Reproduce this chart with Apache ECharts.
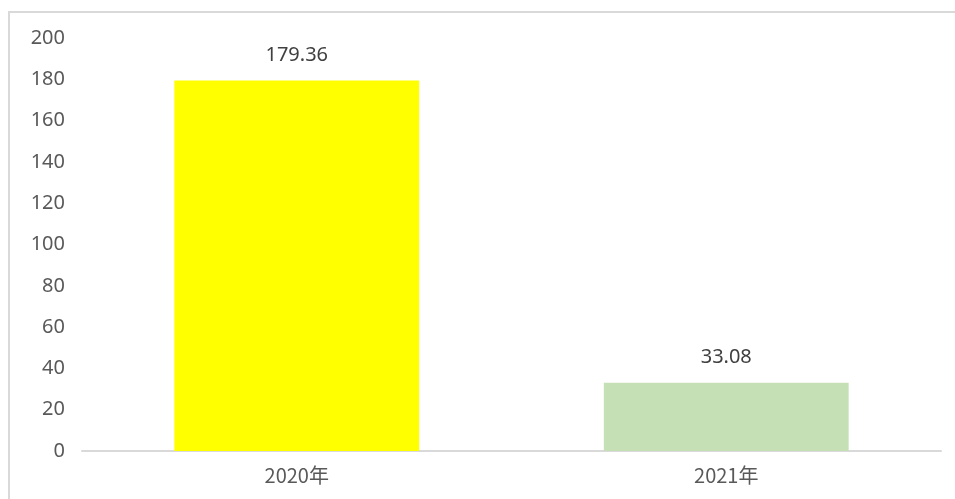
<!DOCTYPE html>
<html><head><meta charset="utf-8">
<script src="https://cdn.jsdelivr.net/npm/echarts@6/dist/echarts.min.js"></script>
<style>html,body{margin:0;padding:0;background:#fff}#c{width:955px;height:499px}</style>
</head><body><div id="c"></div>
<script>
var categories = ['2020年', '2021年'];
var values = [179.36, 33.08];
var barColors = ['#FFFF00', '#C5E0B4'];
var labelTexts = ['179.36', '33.08'];

var chart = echarts.init(document.getElementById('c'));
chart.setOption({
  animation: false,
  graphic: [
    { type: 'line', shape: { x1: 8, y1: 12, x2: 955, y2: 12 }, style: { stroke: '#d9d9d9', lineWidth: 2 } },
    { type: 'line', shape: { x1: 9, y1: 11, x2: 9, y2: 499 }, style: { stroke: '#d9d9d9', lineWidth: 2 } }
  ],
  grid: { left: 82, right: 14, top: 38, bottom: 48, containLabel: false },
  xAxis: {
    type: 'category', data: categories,
    axisLine: { lineStyle: { color: '#d9d9d9', width: 2 } },
    axisTick: { show: false },
    axisLabel: { color: '#595959', fontSize: 20, margin: 14, fontFamily: 'Noto Sans CJK SC' }
  },
  yAxis: {
    type: 'value', min: 0, max: 200, interval: 20,
    axisLine: { show: false }, axisTick: { show: false },
    splitLine: { show: false },
    axisLabel: { color: '#595959', fontSize: 20, margin: 17, fontFamily: 'Noto Sans' }
  },
  series: [{
    type: 'bar', barWidth: '57%',
    data: values.map(function (v, i) { return { value: v, itemStyle: { color: barColors[i] } }; }),
    label: {
      show: true, position: 'top', distance: 15, color: '#404040', fontSize: 20, fontFamily: 'Noto Sans',
      formatter: function (p) { return labelTexts[p.dataIndex]; }
    }
  }]
});
</script></body></html>
